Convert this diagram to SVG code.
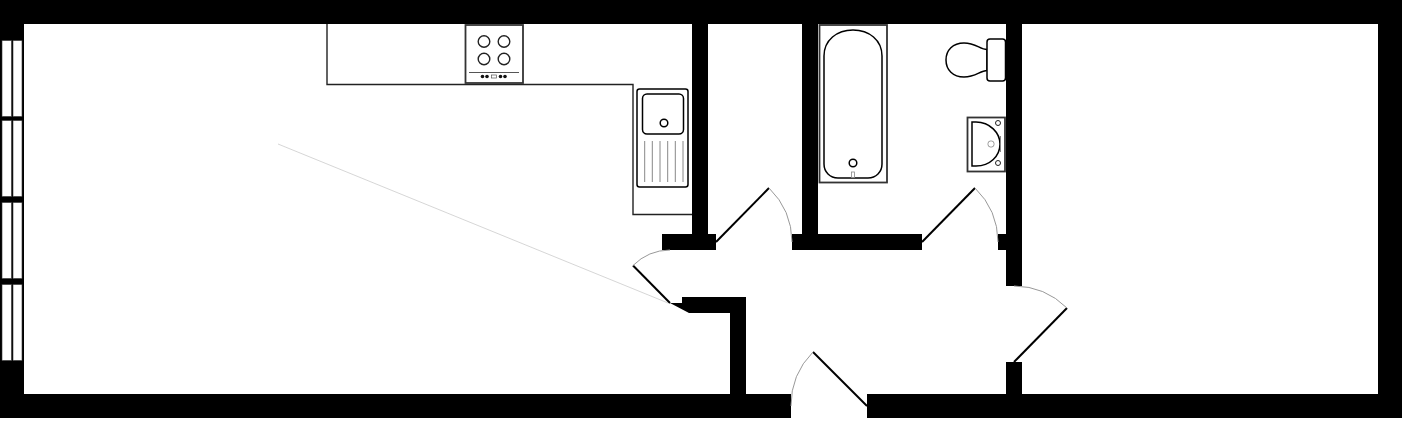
<svg xmlns="http://www.w3.org/2000/svg" width="1408" height="424" viewBox="0 0 1408 424">
<style>
.wall{fill:#000}
.pane{fill:#fff;stroke:#333;stroke-width:.6}
.fix{fill:#fff;stroke:#000;stroke-width:1.5}
.fixg{fill:#fff;stroke:#333;stroke-width:1.8}
.door{fill:none;stroke:#000;stroke-width:2}
.arc{fill:none;stroke:#999;stroke-width:1}
.groove{fill:none;stroke:#888;stroke-width:1}
</style>
<rect width="1408" height="424" fill="#fff"/>
<g id="walls" class="wall">
<rect x="0" y="0" width="1402" height="24"/>
<rect x="0" y="0" width="24" height="418"/>
<rect x="1378" y="0" width="24" height="418"/>
<rect x="0" y="394" width="791" height="24"/>
<rect x="867" y="394" width="535" height="24"/>
<rect x="692" y="24" width="16" height="226"/>
<rect x="662" y="234" width="54" height="16"/>
<rect x="802" y="24" width="16" height="226"/>
<rect x="792" y="234" width="130" height="16"/>
<rect x="1006" y="24" width="16" height="262"/>
<rect x="998" y="234" width="10" height="16"/>
<rect x="1006" y="362" width="16" height="32"/>
<polygon points="670,303 682,303 682,297 746,297 746,394 730,394 730,313 689,313"/>
</g>
<g id="window">
<rect class="pane" x="2" y="40.5" width="9.5" height="76"/><rect class="pane" x="13" y="40.5" width="9" height="76"/>
<rect class="pane" x="2" y="120.5" width="9.5" height="76"/><rect class="pane" x="13" y="120.5" width="9" height="76"/>
<rect class="pane" x="2" y="202.5" width="9.5" height="76"/><rect class="pane" x="13" y="202.5" width="9" height="76"/>
<rect class="pane" x="2" y="284.5" width="9.5" height="76"/><rect class="pane" x="13" y="284.5" width="9" height="76"/>
</g>
<g id="counter">
<path d="M327 24V84.500H633V214.500H692" fill="none" stroke="#222" stroke-width="1.400"/>
</g>
<g id="stove">
<rect class="fixg" x="465.500" y="25" width="57.500" height="58"/>
<g fill="none" stroke="#222" stroke-width="1.400">
<circle cx="484" cy="41.500" r="5.800"/><circle cx="504" cy="41.500" r="5.800"/>
<circle cx="484" cy="59" r="5.800"/><circle cx="504" cy="59" r="5.800"/>
</g>
<path d="M469 72.500H519" stroke="#555" stroke-width="1"/>
<g fill="#111">
<circle cx="482.500" cy="76.500" r="1.800"/><circle cx="487" cy="76.500" r="1.800"/>
<circle cx="500.500" cy="76.500" r="1.800"/><circle cx="505" cy="76.500" r="1.800"/>
</g>
<rect x="491.500" y="75" width="5" height="3" fill="#fff" stroke="#555" stroke-width=".7"/>
</g>
<g id="sink">
<rect class="fix" x="637" y="89" width="51" height="98" rx="2.500"/>
<rect class="fix" x="642.500" y="94" width="41" height="40" rx="4.500"/>
<circle cx="664" cy="123" r="3.800" fill="none" stroke="#000" stroke-width="1.500"/>
<path class="groove" d="M644.700 141V182M652.300 141V182M660 141V182M667.700 141V182M675.300 141V182M683 141V182"/>
</g>
<g id="bath">
<rect class="fixg" x="819.500" y="25" width="67.500" height="157.500"/>
<path class="fix" d="M824 56C824 40 837 30 853 30C869 30 882 40 882 56V164C882 172 876 178 868 178H838C830 178 824 172 824 164Z"/>
<circle cx="853" cy="163" r="3.800" fill="none" stroke="#000" stroke-width="1.500"/>
<rect x="851.500" y="172" width="3" height="5.500" fill="#fff" stroke="#888" stroke-width=".8"/>
</g>
<g id="toilet">
<path class="fix" d="M987 49.500C980 49.500 976 43 964 43C953 43 946 50 946 60C946 70 953 77 964 77C976 77 980 70.500 987 70.500Z"/>
<rect class="fix" x="987" y="39" width="18.500" height="42" rx="3"/>
</g>
<g id="basin">
<rect class="fixg" x="967.500" y="117.500" width="37.500" height="54"/>
<path class="fix" d="M972 122H976C990 122 1000 133 1000 144C1000 156 990 166 976 166H972Z"/>
<path d="M1000.500 136V152" stroke="#888" stroke-width="1"/>
<circle cx="998" cy="123" r="2.500" fill="#fff" stroke="#222"/>
<circle cx="998" cy="163" r="2.500" fill="#fff" stroke="#222"/>
<rect x="988" y="141" width="6" height="6" rx="2.500" fill="#fff" stroke="#999" stroke-width="1"/>
</g>
<g id="doors">
<path class="door" d="M716 242L769 188"/>
<path class="arc" d="M769 188A76 76 0 0 1 792 242"/>
<path class="door" d="M922 242L975 188"/>
<path class="arc" d="M975 188A76 76 0 0 1 998 242"/>
<path class="door" d="M1014 362L1067 308"/>
<path class="arc" d="M1014 286A76 76 0 0 1 1067 308"/>
<path class="door" d="M867 406L813 352"/>
<path class="arc" d="M813 352A76 76 0 0 0 791 406"/>
<path class="door" d="M670 303L633 265.500"/>
<path class="arc" d="M633 265.500A53 53 0 0 1 670 250"/>
</g>
<path id="guide" d="M278 144L668 303" stroke="#bbb" stroke-width=".6" fill="none"/>
</svg>
